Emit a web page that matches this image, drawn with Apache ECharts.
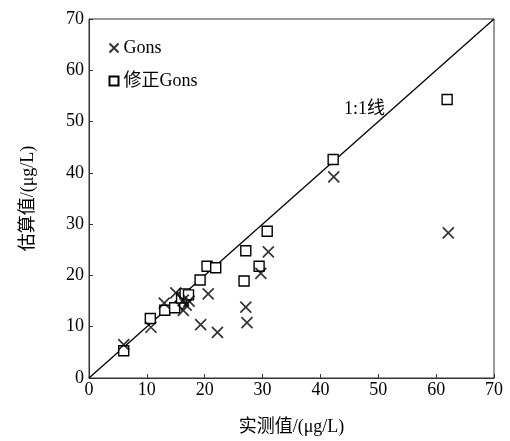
<!DOCTYPE html>
<html>
<head>
<meta charset="utf-8">
<script src="https://cdn.jsdelivr.net/npm/echarts@6/dist/echarts.min.js"></script>
<style>
  html, body { margin: 0; padding: 0; background: #fff; }
  #main { width: 510px; height: 441px; }
</style>
</head>
<body>
<div id="main"></div>
<script>
// 数据
var gonsPoints = [
  [6.0, 6.5], [10.7, 9.9], [13.0, 14.6], [15.0, 16.6], [16.3, 15.2],
  [16.8, 14.2], [16.3, 13.2], [17.3, 15.0], [19.3, 10.4], [20.6, 16.4],
  [22.2, 8.9], [27.1, 13.8], [27.3, 10.8], [29.7, 20.4], [31.0, 24.6],
  [42.3, 39.2], [62.1, 28.3]
]
var fixedPoints = [
  [6.0, 5.3], [10.6, 11.6], [13.1, 13.2], [14.8, 13.7], [16.0, 15.6],
  [16.6, 16.4], [17.2, 16.2], [19.2, 19.1], [20.4, 21.8], [21.9, 21.5],
  [26.8, 18.9], [27.1, 24.8], [29.4, 21.8], [30.8, 28.6], [42.2, 42.6],
  [61.9, 54.3]
]
var oneToOne = [[0, 0], [70, 70]]
var seriesNames = ['Gons', '修正Gons']

var font = '"Liberation Serif", "Noto Sans CJK SC", serif'
var crossPath = 'path://M0,0L10,10M0,10L10,0'

var dom = document.getElementById('main')
var myChart = echarts.init(dom)

var option = {
  animation: false,
  textStyle: { fontFamily: font },
  grid: {
    left: 89, right: 16, top: 19, bottom: 61,
    show: true, borderColor: '#333', borderWidth: 1
  },
  legend: {
    orient: 'vertical',
    left: 102,
    top: 33,
    itemGap: 13,
    itemWidth: 9,
    itemHeight: 9,
    textStyle: { fontFamily: font, fontSize: 18, lineHeight: 20, color: '#000' },
    data: seriesNames
  },
  xAxis: {
    type: 'value',
    min: 0, max: 70, interval: 10,
    name: '实测值/(μg/L)',
    nameLocation: 'middle',
    nameGap: 40,
    nameTextStyle: { fontFamily: font, fontSize: 18, color: '#000' },
    axisLine: { lineStyle: { color: '#333' } },
    axisTick: { inside: true, length: 4, lineStyle: { color: '#333' } },
    axisLabel: { fontFamily: font, fontSize: 18, color: '#000', margin: 3 },
    splitLine: { show: false }
  },
  yAxis: {
    type: 'value',
    min: 0, max: 70, interval: 10,
    name: '估算值/(μg/L)',
    nameLocation: 'middle',
    nameGap: 52,
    nameTextStyle: { fontFamily: font, fontSize: 18, color: '#000' },
    axisLine: { lineStyle: { color: '#333' } },
    axisTick: { inside: true, length: 4, lineStyle: { color: '#333' } },
    axisLabel: { fontFamily: font, fontSize: 18, color: '#000', margin: 5 },
    splitLine: { show: false }
  },
  graphic: [
    {
      type: 'text',
      left: 344,
      top: 100,
      style: { text: '1:1线', font: '18px ' + font, fill: '#000' }
    }
  ],
  series: [
    {
      name: '1:1',
      type: 'line',
      data: oneToOne,
      symbol: 'none',
      lineStyle: { color: '#000', width: 1.3 },
      z: 1
    },
    {
      name: seriesNames[0],
      type: 'scatter',
      data: gonsPoints,
      symbol: crossPath,
      symbolSize: 11,
      itemStyle: { color: 'none', borderColor: '#000', borderWidth: 1.7 },
      z: 3
    },
    {
      name: seriesNames[1],
      type: 'scatter',
      data: fixedPoints,
      symbol: 'rect',
      symbolSize: 10,
      itemStyle: { color: '#fff', opacity: 1, borderColor: '#000', borderWidth: 1.4 },
      z: 2
    }
  ]
}
myChart.setOption(option)
</script>
</body>
</html>
